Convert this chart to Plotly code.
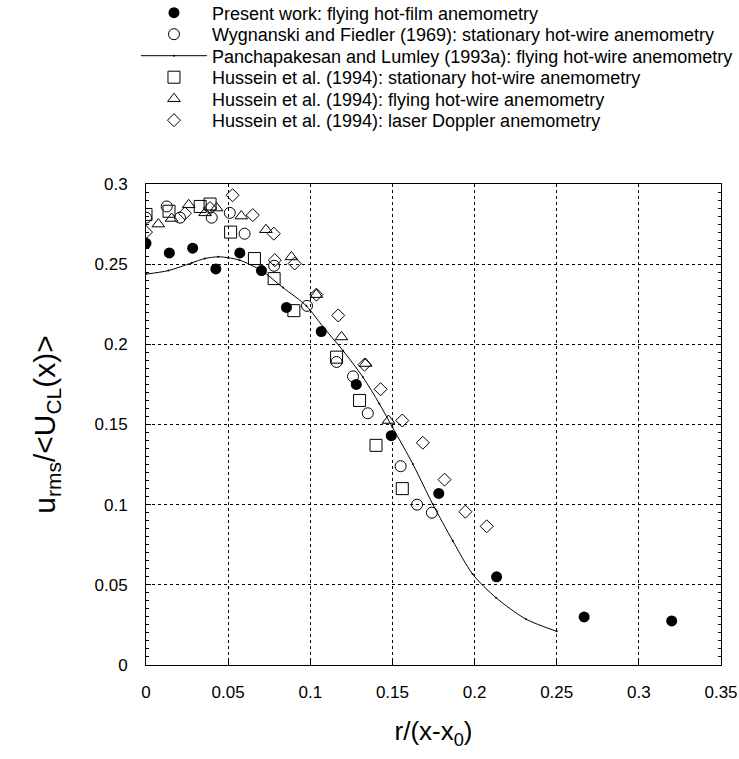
import plotly.graph_objects as go

# Present work: flying hot-film anemometry
present_x = [0, 0.0142, 0.0284, 0.0425, 0.0571, 0.0703, 0.0855, 0.1067, 0.128, 0.1493, 0.1782, 0.2134, 0.2667, 0.32]
present_y = [0.263, 0.257, 0.260, 0.247, 0.257, 0.246, 0.223, 0.208, 0.175, 0.143, 0.107, 0.055, 0.030, 0.0275]

# Wygnanski and Fiedler (1969)
wf_x = [0, 0.0126, 0.0207, 0.040, 0.051, 0.060, 0.078, 0.098, 0.116, 0.126, 0.135, 0.155, 0.165, 0.174]
wf_y = [0.279, 0.286, 0.279, 0.279, 0.282, 0.269, 0.249, 0.224, 0.189, 0.180, 0.157, 0.124, 0.100, 0.095]

# Panchapakesan and Lumley (1993a)
pl_x = [0, 0.0136, 0.0278, 0.0358, 0.044, 0.05, 0.057, 0.0703, 0.0834, 0.0976, 0.1077, 0.12, 0.132,
        0.142, 0.150, 0.1624, 0.1745, 0.1867, 0.1988, 0.213, 0.2313, 0.25]
pl_y = [0.2438, 0.246, 0.2508, 0.2535, 0.2546, 0.254, 0.2525, 0.246, 0.2354, 0.224, 0.211, 0.196, 0.1796,
        0.163, 0.1483, 0.1254, 0.1004, 0.0775, 0.0567, 0.042, 0.0286, 0.021]

# Hussein et al. (1994): stationary hot-wire
hs_x = [0, 0.014, 0.033, 0.039, 0.0515, 0.066, 0.078, 0.090, 0.116, 0.130, 0.140, 0.156]
hs_y = [0.281, 0.283, 0.286, 0.2875, 0.270, 0.2535, 0.241, 0.221, 0.192, 0.165, 0.137, 0.110]

# Hussein et al. (1994): flying hot-wire
hf_x = [0.0075, 0.0156, 0.026, 0.036, 0.043, 0.058, 0.073, 0.0885, 0.1037, 0.119, 0.1337, 0.1476]
hf_y = [0.275, 0.2785, 0.287, 0.282, 0.285, 0.280, 0.2715, 0.2545, 0.231, 0.2046, 0.188, 0.1525]

# Hussein et al. (1994): laser Doppler
hl_x = [0, 0.0237, 0.039, 0.0527, 0.065, 0.0778, 0.0784, 0.0905, 0.1037, 0.117, 0.133, 0.1428, 0.156,
        0.1685, 0.1817, 0.1944, 0.2074]
hl_y = [0.270, 0.2817, 0.285, 0.293, 0.2806, 0.269, 0.2525, 0.2504, 0.231, 0.218, 0.1873, 0.172, 0.1525,
        0.1386, 0.1156, 0.0956, 0.0865]

x_ticks = [0, 0.05, 0.1, 0.15, 0.2, 0.25, 0.3, 0.35]
y_ticks = [0, 0.05, 0.1, 0.15, 0.2, 0.25, 0.3]

FONT = "Liberation Sans, Arial, sans-serif"
open_line = dict(color="black", width=1)

series = [
    dict(x=present_x, y=present_y, mode="markers",
         name="Present work: flying hot-film anemometry",
         marker=dict(symbol="circle", size=11, color="black")),
    dict(x=wf_x, y=wf_y, mode="markers",
         name="Wygnanski and Fiedler (1969): stationary hot-wire anemometry",
         marker=dict(symbol="circle-open", size=11, color="black", line=open_line)),
    dict(x=pl_x, y=pl_y, mode="lines+markers",
         name="Panchapakesan and Lumley (1993a): flying hot-wire anemometry",
         line=dict(color="black", width=1, shape="spline", smoothing=0.8),
         marker=dict(symbol="circle", size=2, color="black")),
    dict(x=hs_x, y=hs_y, mode="markers",
         name="Hussein et al. (1994): stationary hot-wire anemometry",
         marker=dict(symbol="square-open", size=12, color="black", line=open_line)),
    dict(x=hf_x, y=hf_y, mode="markers",
         name="Hussein et al. (1994): flying hot-wire anemometry",
         marker=dict(symbol="triangle-up-open", size=11, color="black", line=open_line)),
    dict(x=hl_x, y=hl_y, mode="markers",
         name="Hussein et al. (1994): laser Doppler anemometry",
         marker=dict(symbol="diamond-open", size=10, color="black", line=open_line)),
]

fig = go.Figure()
legend_names = ["legend", "legend2", "legend3", "legend4", "legend5", "legend6"]
for s, lg in zip(series, legend_names):
    fig.add_trace(go.Scatter(legend=lg, showlegend=True, **s))

axis_common = dict(
    showline=True, linecolor="black", linewidth=1,
    showgrid=True, gridcolor="black", gridwidth=1, griddash="3px,3px",
    zeroline=False, ticks="inside", ticklen=5, tickcolor="black",
    tickfont=dict(family=FONT, size=17, color="black"),
)

fig.update_xaxes(
    range=[0, 0.35], tickvals=x_ticks, ticktext=[f"{v:g}" for v in x_ticks],
    mirror=True, ticklabelstandoff=12,
    title=dict(text="r/(x-x<sub>0</sub>)", font=dict(family=FONT, size=26, color="black"), standoff=20),
    **axis_common)
fig.update_yaxes(
    range=[0, 0.3], tickvals=y_ticks, ticktext=[f"{v:g}" for v in y_ticks],
    mirror="allticks", ticklabelstandoff=14,
    minor=dict(ticks="inside", ticklen=3, dtick=0.005, tickcolor="black", showgrid=False),
    title=dict(text="u<sub>rms</sub>/&lt;U<sub>CL</sub>(x)&gt;", font=dict(family=FONT, size=30, color="black"), standoff=30),
    **axis_common)

# one single-entry legend per series, stacked in tight rows above the plot
W, H = 739, 759
PLOT_LEFT, PLOT_RIGHT = 146, 720
PLOT_TOP, PLOT_BOTTOM = 184, 665
LEGEND_LEFT = 136
row_px = [13, 34.5, 56, 77.5, 99, 120.5]
legend_layout = {}
for lg, ypx in zip(legend_names, row_px):
    legend_layout[lg] = dict(
        x=(LEGEND_LEFT - PLOT_LEFT) / (PLOT_RIGHT - PLOT_LEFT),
        y=(PLOT_BOTTOM - ypx) / (PLOT_BOTTOM - PLOT_TOP),
        xanchor="left", yanchor="middle",
        font=dict(family=FONT, size=18, color="black"),
        bgcolor="rgba(0,0,0,0)", itemwidth=66,
    )

fig.update_layout(
    width=W, height=H, showlegend=True,
    margin=dict(l=PLOT_LEFT, r=W - PLOT_RIGHT - 1, t=PLOT_TOP, b=H - PLOT_BOTTOM, autoexpand=False),
    plot_bgcolor="white", paper_bgcolor="white",
    font=dict(family=FONT, color="black"),
    **legend_layout,
)

fig.write_html("out.html")
